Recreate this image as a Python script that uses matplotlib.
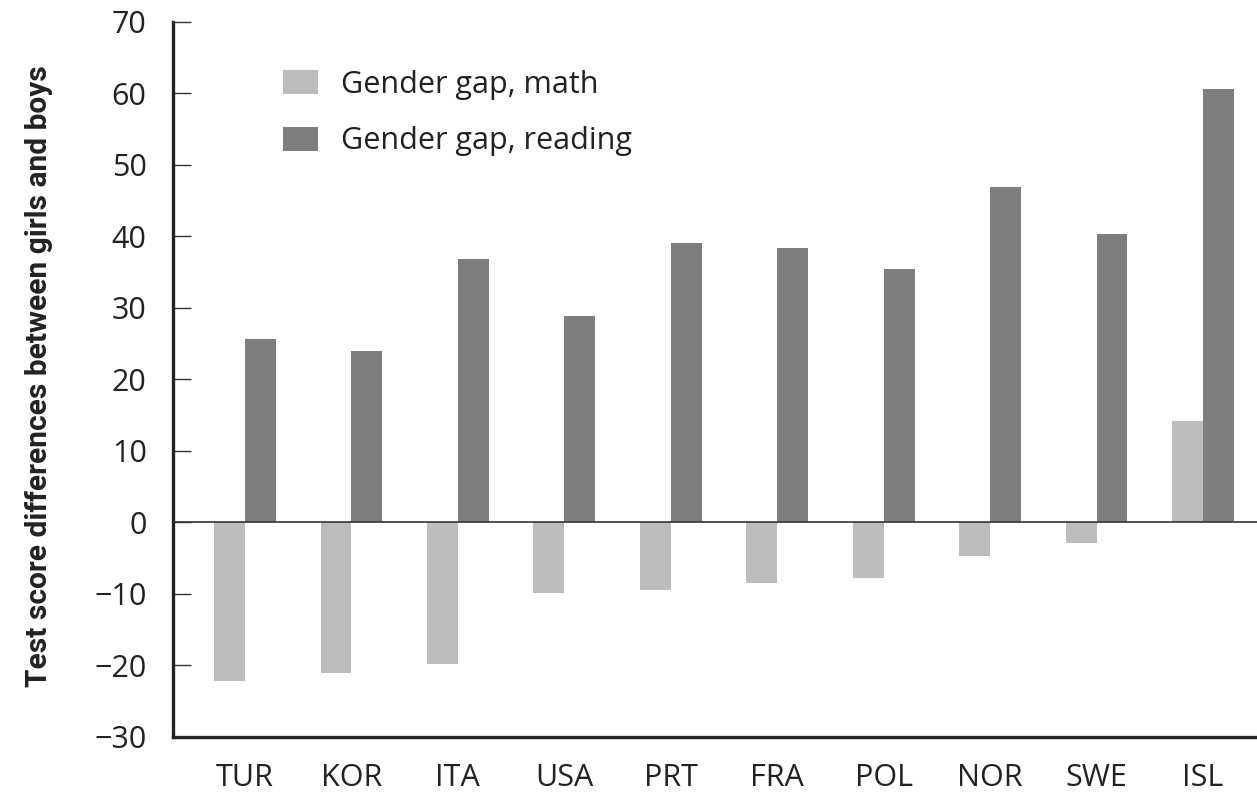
import matplotlib.pyplot as plt
import numpy as np

countries = ['TUR', 'KOR', 'ITA', 'USA', 'PRT', 'FRA', 'POL', 'NOR', 'SWE', 'ISL']
gap_math = [-22.1, -21.0, -19.8, -9.9, -9.4, -8.4, -7.8, -4.7, -2.9, 14.2]
gap_reading = [25.7, 24.0, 36.9, 28.9, 39.1, 38.4, 35.5, 46.9, 40.4, 60.6]
yticks = list(range(-30, 71, 10))

c_math = '#bbbcbe'
c_read = '#7d7f7e'
tick_font = ['Open Sans', 'DejaVu Sans']

fig = plt.figure(figsize=(12.57, 7.94), dpi=100)
ax = fig.add_axes([0.1376, 0.0718, 0.8624, 0.9005])

x = np.arange(len(countries))
w = 0.29
ax.bar(x - w / 2, gap_math, width=w, color=c_math, label='Gender gap, math')
ax.bar(x + w / 2, gap_reading, width=w, color=c_read, label='Gender gap, reading')
ax.axhline(0, color='#333333', lw=1.2, zorder=3)

ax.set_xlim(-0.676, 9.507)
ax.set_ylim(-30, 70)
ax.set_yticks(yticks)
ax.set_yticklabels([str(v).replace('-', '\u2212') for v in yticks],
                   family=tick_font, fontsize=22, color='#222222')
ax.set_xticks(x)
ax.set_xticklabels(countries, family=tick_font, fontsize=22, color='#222222')

for s in ['top', 'right']:
    ax.spines[s].set_visible(False)
for s in ['left', 'bottom']:
    ax.spines[s].set_linewidth(2.4)
    ax.spines[s].set_color('#222222')
ax.tick_params(axis='y', direction='in', length=13, width=1, color='#333333', pad=19)
ax.tick_params(axis='x', length=0, pad=19)

ax.set_ylabel('Test score differences between girls and boys',
              family=['Roboto', 'DejaVu Sans'], fontsize=21.5,
              fontweight='bold', color='#222222')
ax.yaxis.set_label_coords(-0.111, 0.505)

leg = ax.legend(loc='upper left', bbox_to_anchor=(0.076, 0.972), frameon=False,
                prop={'family': tick_font, 'size': 22}, handlelength=1.15,
                handleheight=0.85, handletextpad=0.75, labelspacing=0.88)
for t in leg.get_texts():
    t.set_color('#222222')

fig.savefig('out.png', dpi=100)
